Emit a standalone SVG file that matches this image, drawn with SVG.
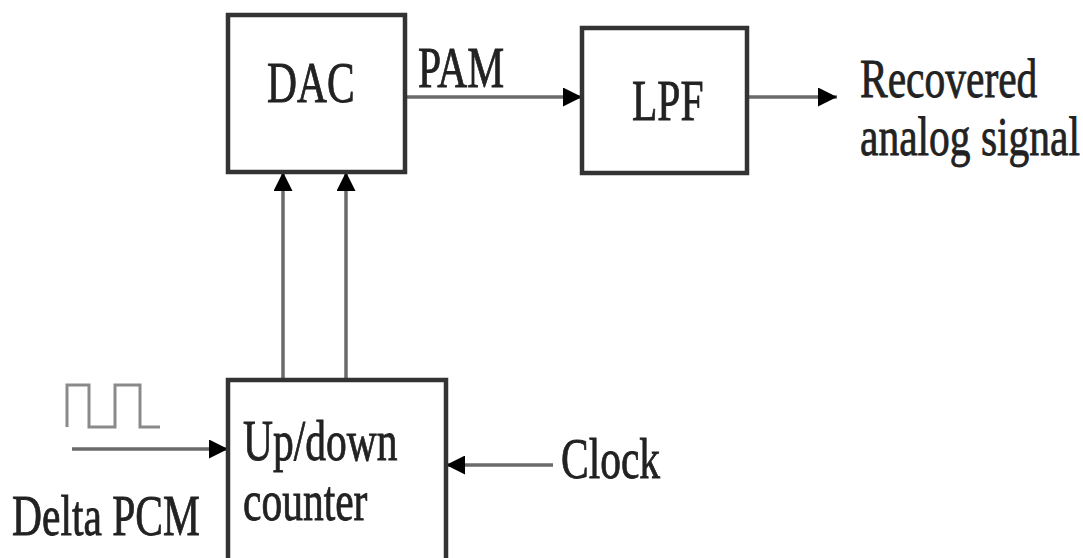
<svg xmlns="http://www.w3.org/2000/svg" width="1083" height="558" viewBox="0 0 1083 558">
<style>
.box{fill:#fff;stroke:#333;stroke-width:4.5}
.ln{fill:none;stroke:#6a6a6a;stroke-width:3.5}
.wave{fill:none;stroke:#8a8a8a;stroke-width:3}
text{font-family:"Liberation Serif","Times New Roman",serif;font-size:41.5px;fill:#222;stroke:#222;stroke-width:0.6}
</style>
<defs>
<marker id="ah" viewBox="0 0 10 10" refX="10" refY="5" markerWidth="21" markerHeight="19" markerUnits="userSpaceOnUse" orient="auto">
<path d="M0,0 L10,5 L0,10 z" fill="#000"/>
</marker>
</defs>
<rect width="1083" height="558" fill="#fff"/>
<g id="connectors">
<line class="ln" x1="405" y1="97" x2="582" y2="97" marker-end="url(#ah)"/>
<line class="ln" x1="747" y1="97" x2="837" y2="97" marker-end="url(#ah)"/>
<line class="ln" x1="283" y1="380" x2="283" y2="172" marker-end="url(#ah)"/>
<line class="ln" x1="346" y1="380" x2="346" y2="172" marker-end="url(#ah)"/>
<line class="ln" x1="72" y1="449" x2="228" y2="449" marker-end="url(#ah)"/>
<line class="ln" x1="553" y1="465" x2="446" y2="465" marker-end="url(#ah)"/>
</g>
<g id="dac">
<rect class="box" x="228" y="15" width="177" height="157"/>
<text transform="translate(267,102) scale(1,1.4)">DAC</text>
</g>
<g id="pam-label">
<text transform="translate(418,87) scale(1,1.4)">PAM</text>
</g>
<g id="lpf">
<rect class="box" x="582" y="28" width="165" height="145"/>
<text transform="translate(632,120) scale(1,1.4)">LPF</text>
</g>
<g id="output-label">
<text transform="translate(860,97) scale(1,1.3)">Recovered</text>
<text transform="translate(860,155) scale(1,1.3)">analog signal</text>
</g>
<g id="counter">
<rect class="box" x="228" y="380" width="218" height="220"/>
<text transform="translate(243,460) scale(1,1.35)">Up/down</text>
<text transform="translate(243,520) scale(1,1.35)">counter</text>
</g>
<g id="clock-label">
<text transform="translate(561,478) scale(1,1.35)">Clock</text>
</g>
<g id="delta-pcm">
<path class="wave" d="M67,427 V385 H89 V427 H115 V385 H140 V427 H160"/>
<text transform="translate(12,535) scale(1,1.35)">Delta PCM</text>
</g>
</svg>
